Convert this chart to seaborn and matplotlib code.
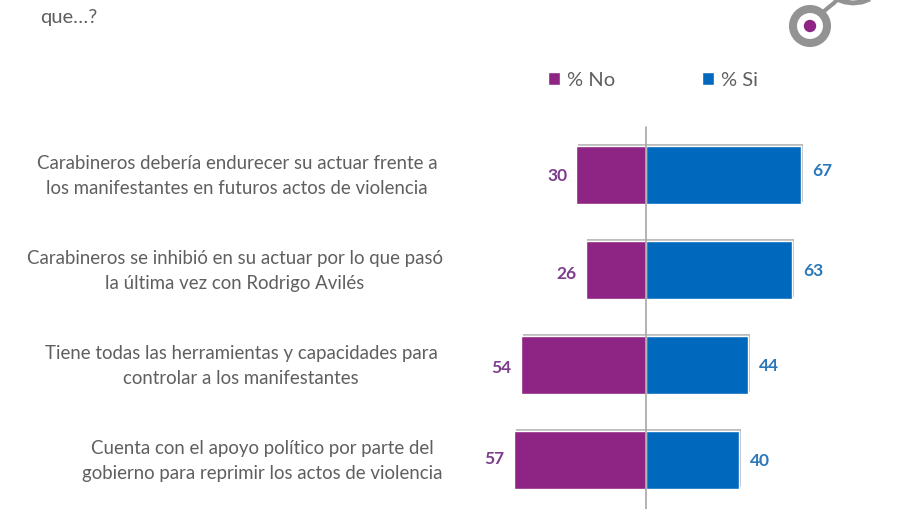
import pandas as pd
import matplotlib
matplotlib.use("Agg")
import matplotlib.pyplot as plt
import matplotlib.patheffects as pe
from matplotlib.patches import Circle
import seaborn as sns

# datos
preguntas = [
    "Carabineros debería endurecer su actuar frente a\nlos manifestantes en futuros actos de violencia",
    "Carabineros se inhibió en su actuar por lo que pasó\nla última vez con Rodrigo Avilés",
    "Tiene todas las herramientas y capacidades para\ncontrolar a los manifestantes",
    "Cuenta con el apoyo político por parte del\ngobierno para reprimir los actos de violencia",
]
pct_no = [30, 26, 54, 57]
pct_si = [67, 63, 44, 40]

MORADO = "#8E2585"
AZUL = "#0068BD"
GRIS = "#5F5F5F"

sns.set_style("white")
plt.rcParams["font.family"] = ["Lato", "DejaVu Sans"]

df = pd.DataFrame({"pregunta": preguntas, "% No": pct_no, "% Si": pct_si})
largo = df.melt(id_vars="pregunta", var_name="resp", value_name="pct")
largo["valor"] = largo["pct"].where(largo["resp"] == "% Si", -largo["pct"])

fig = plt.figure(figsize=(9, 5.1), dpi=100)
ax = fig.add_axes([0, 0, 1, 1])

sns.barplot(data=largo, x="valor", y="pregunta", hue="resp", dodge=False, width=0.61,
            palette={"% No": MORADO, "% Si": AZUL}, ax=ax, legend=False, saturation=1,
            order=preguntas, hue_order=["% No", "% Si"])

# escala: 2.32 px por punto, cero en x=646, filas cada 95 px desde y=176
ax.set_xlim(-646 / 2.32, (900 - 646) / 2.32)
ax.set_ylim((510 - 176) / 95, -176 / 95)
ax.axis("off")

sombra = [pe.SimplePatchShadow(offset=(1.3, 1.3), shadow_rgbFace="#b5b5b5", alpha=0.9), pe.Normal()]
for cont, lab in zip(ax.containers, ["% No", "% Si"]):
    cont.set_label(lab)
    for barra in cont:
        barra.set_path_effects(sombra)

# etiquetas de valor
ajuste_no = [0, 3, 2, -2]
ajuste_si = [-5, 0, 0, 0]
for i in range(len(preguntas)):
    ax.annotate(str(pct_no[i]), (-pct_no[i], i), xytext=(-9, -ajuste_no[i]), textcoords="offset pixels",
                ha="right", va="center", color="#7D3C8C", fontsize=12.5, fontweight="bold")
    ax.annotate(str(pct_si[i]), (pct_si[i], i), xytext=(11, -ajuste_si[i]), textcoords="offset pixels",
                ha="left", va="center", color="#2A78B8", fontsize=12.5, fontweight="bold")

# capa en pixeles para textos y logo
capa = fig.add_axes([0, 0, 1, 1], facecolor="none")
capa.set_xlim(0, 900)
capa.set_ylim(510, 0)
capa.axis("off")

capa.plot([646, 646], [128, 510], color="#A6A6A6", lw=1.2, zorder=5)

centros_x = [237, 235, 241, 262]
centros_y = [176, 271, 366, 461]
for texto, cx, cy in zip(preguntas, centros_x, centros_y):
    capa.text(cx, cy, texto, ha="center", va="center", ma="center", fontsize=13.4,
              color=GRIS, linespacing=1.52)

capa.text(40, 18, "que…?", ha="left", va="center", fontsize=14.5, color=GRIS)

# leyenda
handles = [ax.containers[0][0], ax.containers[1][0]]
leg = ax.legend(handles, ["% No", "% Si"], ncol=2, frameon=False, loc="center left",
                bbox_to_anchor=(548 / 900, 1 - 81 / 510), fontsize=14.5, labelcolor=GRIS,
                handlelength=0.6, handleheight=0.6, handletextpad=0.35, columnspacing=4.3,
                borderpad=0, borderaxespad=0)
for h in leg.legend_handles:
    h.set_path_effects([])

# logo
capa.add_patch(Circle((810, 27), 17, fc="none", ec="#939393", lw=5.8))
capa.add_patch(Circle((810, 27), 6.2, fc=MORADO, ec="none"))
capa.plot([823, 829, 834, 838], [13, 8, 4, 0], color="#939393", lw=3, solid_capstyle="butt")
capa.plot([836, 845, 853, 862, 870], [0, 3, 4, 3, 0], color="#939393", lw=3.5, solid_capstyle="butt")

fig.savefig("out.png", dpi=100, facecolor="white")
